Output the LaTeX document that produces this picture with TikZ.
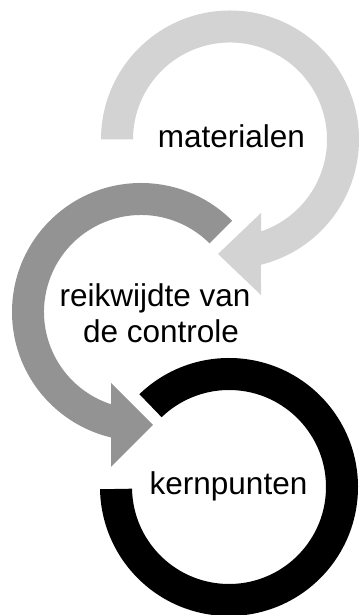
\documentclass[tikz,border=0pt]{standalone}
\usepackage{fontspec}
\setmainfont{Liberation Sans}
\definecolor{lightarc}{RGB}{211,211,211}
\definecolor{midarc}{RGB}{147,147,147}
\begin{document}
\begin{tikzpicture}[x=1pt,y=1pt,
  lbl/.style={anchor=base,inner sep=0pt,font=\fontsize{31.5}{36}\selectfont,text=black}]
\useasboundingbox (0,0) rectangle (359,615);
% centres
\coordinate (c1) at (230,475.5);
\coordinate (c2) at (141,303);
\coordinate (c3) at (229,128);
% arrow-head points
\coordinate (t1w1) at (261,320);
\coordinate (t1tip) at (218,361);
\coordinate (t1w2) at (261,402);
\coordinate (t2w1) at (111,148);
\coordinate (t2tip) at (153,190);
\coordinate (t2w2) at (111,232);
% black ring (bottom)
\fill[black] (c3) ++(134:129) arc[start angle=134,end angle=-179,radius=129]
  -- ([shift={(-179:97)}]c3) arc[start angle=-179,end angle=134,radius=97] -- cycle;
% middle grey arrow
\fill[midarc] (c2) ++(45:129) arc[start angle=45,end angle=256.6,radius=129]
  -- (t2w1) -- (t2tip) -- (t2w2)
  -- ([shift={(252:97)}]c2) arc[start angle=252,end angle=45,radius=97] -- cycle;
% light grey arrow (top)
\fill[lightarc] (c1) ++(180:129) arc[start angle=180,end angle=-76.1,radius=129]
  -- (t1w1) -- (t1tip) -- (t1w2)
  -- ([shift={(-71.36:97)}]c1) arc[start angle=-71.36,end angle=180,radius=97] -- cycle;
% labels
\node[lbl] (mat) at (231.5,467) {materialen};
\node[lbl] (rvk1) at (155,308) {reikwijdte van};
\node[lbl] (rvk2) at (161,272) {de controle};
\node[lbl] (kern) at (228.5,120) {kernpunten};
\end{tikzpicture}
\end{document}
